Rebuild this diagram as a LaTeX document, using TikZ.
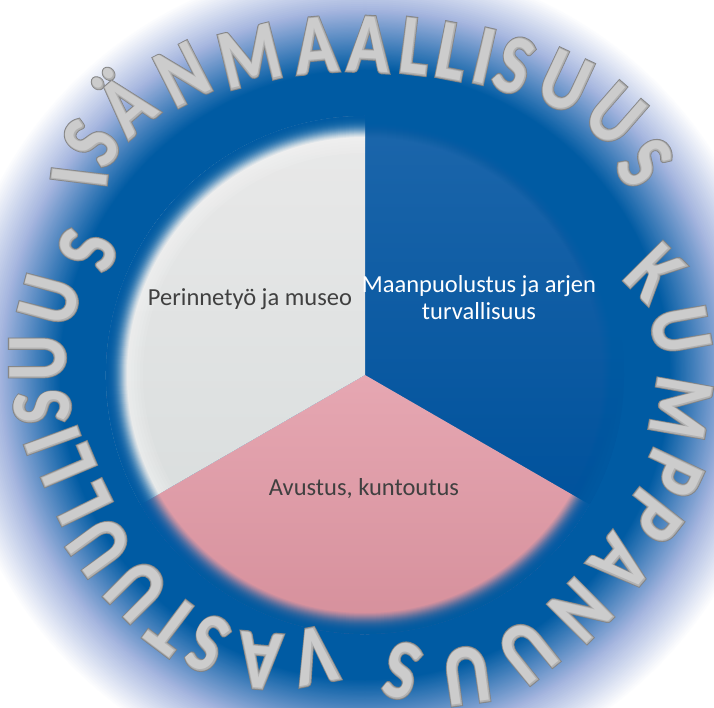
\documentclass[tikz,border=0pt]{standalone}
\usepackage{fontspec}
\setmainfont{Carlito}
\newfontfamily\letterlow{Carlito Bold}[FakeBold=5]
\newfontfamily\lettermid{Carlito Bold}[FakeBold=3.5]
\newfontfamily\letterhigh{Carlito Bold}[FakeBold=2]
\newfontfamily\lettertop{Carlito Bold}
\definecolor{haloblue}{HTML}{005BA3}
\definecolor{halomid}{HTML}{A3B4DE}
\definecolor{sectorblue}{HTML}{1C66AB}
\definecolor{sectorblue2}{HTML}{00529C}
\definecolor{sectorgray}{HTML}{E9E9E9}
\definecolor{sectorgray2}{HTML}{DADEDE}
\definecolor{sectorpink}{HTML}{E6A7B2}
\definecolor{sectorpink2}{HTML}{D38C98}
\begin{document}
\begin{tikzpicture}[
        x=1pt, y=1pt,
        capletter/.style={inner sep=0pt, text height=53pt, text depth=0pt, anchor=center},
        lbl/.style={font=\fontsize{24.5}{27}\selectfont, align=center, text=black!75},
        softring/.style={even odd rule, opacity=0.18}
    ]
    \clip (0,0) rectangle (714,707);
    \coordinate (c) at (365,332);
    \foreach \t in {0,4,...,100} {
        \fill[halomid!\t!white] (c) circle ({415-0.5*\t});
    }
    \foreach \t in {0,2,...,100} {
        \fill[haloblue!\t!halomid] (c) circle ({365-0.6*\t});
    }
    \shade[bottom color=sectorblue2, top color=sectorblue] (c) -- ++(90:259) arc (90:-30:259) -- cycle;
    \shade[bottom color=sectorpink2, top color=sectorpink] (c) -- ++(-30:259) arc (-30:-150:259) -- cycle;
    \shade[bottom color=sectorgray2, top color=sectorgray] (c) -- ++(210:259) arc (210:90:259) -- cycle;
    \begin{scope}
        \clip (c) -- ++(210:259) arc (210:90:259) -- cycle;
        \foreach \r in {222,225,...,246} {
            \fill[white, softring, opacity=0.09] (c) circle (259) circle (\r);
        }
    \end{scope}
    \foreach \r [evaluate=\r as \op using 0.06+(\r-238)*0.012] in {238,239,...,258} {
        \fill[haloblue, softring, opacity=\op] (c) circle (259) circle (\r);
    }
    \node[lbl] (museo) at (250,408) {Perinnetyö ja museo};
    \node[lbl, text=white] (maanpuolustus) at (479,409) {Maanpuolustus ja arjen\\turvallisuus};
    \node[lbl] (avustus) at (364,218) {Avustus, kuntoutus};
    \foreach \ch/\px/\py/\rot [count=\i] in {I/80/530/83, S/92/564/60, Ä/127/601/41, N/183/632/27, M/250/650/14, A/316/661/5, A/369/662/-3, L/415/660/-7, L/452/655/-11, I/484/650/-13, S/514/641/-20, U/565/625/-25, U/615/592/-41, S/644/544/-52, K/654/434/-45, U/680/377/-80, M/680/299/-100, P/672/234/-115, P/652/191/-128, A/620/143/-130, N/580/97/-135, U/527/56/-141, U/467/32/-172, S/402/37/165, V/315/52/191, A/260/47/175, S/208/64/155, T/173/82/143, U/137/117/135, U/100/161/126, L/83/204/116, L/67/242/113, I/53/267/110, S/43/300/95, U/38/349/90, U/50/407/75, S/88/457/70} {
        \node[capletter, rotate=\rot, text=black!50] (low\i) at (\px,\py) {\scalebox{.82}[1]{\fontsize{84}{84}\letterlow\ch}};
        \node[capletter, rotate=\rot, text=black!40] (mid\i) at (\px,\py) {\scalebox{.82}[1]{\fontsize{84}{84}\lettermid\ch}};
        \node[capletter, rotate=\rot, text=black!30] (high\i) at (\px,\py) {\scalebox{.82}[1]{\fontsize{84}{84}\letterhigh\ch}};
        \node[capletter, rotate=\rot, text=black!20] (top\i) at (\px,\py) {\scalebox{.82}[1]{\fontsize{84}{84}\lettertop\ch}};
    }
\end{tikzpicture}
\end{document}
